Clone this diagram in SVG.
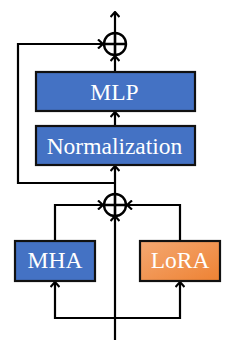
<svg xmlns="http://www.w3.org/2000/svg" width="226" height="347" viewBox="0 0 226 347">
<defs>
<marker id="arr" viewBox="0 0 10 10" refX="9" refY="5" markerWidth="10" markerHeight="10" orient="auto" markerUnits="userSpaceOnUse">
<path d="M4,0.5 L9,5 L4,9.5" fill="none" stroke="#000" stroke-width="2.2"/>
</marker>
<linearGradient id="og" x1="0" y1="0" x2="1" y2="1">
<stop offset="0" stop-color="#F4A872"/>
<stop offset="1" stop-color="#EE8233"/>
</linearGradient>
<style>
.ln{fill:none;stroke:#000;stroke-width:2.2}
.box{stroke:#111;stroke-width:2.2}
.blue{fill:#4472C4}
.lbl{font-size:23.5px;fill:#fff;text-anchor:middle}
</style>
</defs>
<g id="connectors">
<path class="ln" d="M115,340 V216" marker-end="url(#arr)"/>
<path class="ln" d="M115,318 H55 V282" marker-end="url(#arr)"/>
<path class="ln" d="M115,318 H180 V282" marker-end="url(#arr)"/>
<path class="ln" d="M55,241 V205 H103" marker-end="url(#arr)"/>
<path class="ln" d="M180,241 V205 H127" marker-end="url(#arr)"/>
<path class="ln" d="M115,194 V166" marker-end="url(#arr)"/>
<path class="ln" d="M115,183 H18 V44 H103" marker-end="url(#arr)"/>
<path class="ln" d="M115,126 V112" marker-end="url(#arr)"/>
<path class="ln" d="M115,72 V56" marker-end="url(#arr)"/>
<path class="ln" d="M115,32 V12" marker-end="url(#arr)"/>
</g>
<g id="add_top">
<circle cx="115" cy="44" r="11" fill="none" stroke="#000" stroke-width="2.4"/>
<path d="M104,44 H126 M115,33 V55" stroke="#000" stroke-width="2.6"/>
</g>
<g id="add_bottom">
<circle cx="115" cy="205" r="11" fill="none" stroke="#000" stroke-width="2.4"/>
<path d="M104,205 H126 M115,194 V216" stroke="#000" stroke-width="2.6"/>
</g>
<g id="mlp">
<rect class="box blue" x="36" y="72" width="159" height="39"/>
<text class="lbl" font-family="Liberation Serif, serif" x="114.5" y="99.5">MLP</text>
</g>
<g id="normalization">
<rect class="box blue" x="36" y="126" width="159" height="39"/>
<text class="lbl" font-family="Liberation Serif, serif" x="114.5" y="153.5">Normalization</text>
</g>
<g id="mha">
<rect class="box blue" x="15" y="241" width="80" height="40"/>
<text class="lbl" font-family="Liberation Serif, serif" x="55" y="268">MHA</text>
</g>
<g id="lora">
<rect class="box" fill="url(#og)" x="140" y="241" width="80" height="40"/>
<text class="lbl" font-family="Liberation Serif, serif" x="180" y="268">LoRA</text>
</g>
</svg>
